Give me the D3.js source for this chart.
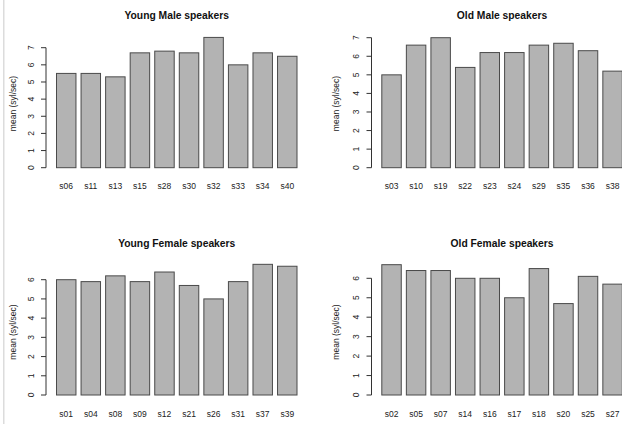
<!DOCTYPE html>
<html>
<head>
<meta charset="utf-8">
<script src="https://cdn.jsdelivr.net/npm/d3@7"></script>
<style>
  html, body { margin: 0; padding: 0; background: #fff; }
  svg { display: block; }
  text { font-family: "Liberation Sans", Arial, Helvetica, sans-serif; fill: #222; }
</style>
</head>
<body>
<svg id="chart" width="622" height="424"></svg>
<script>
// Speaking rate (syllables per second) per speaker, by group
const youngMaleSpeakers = ["s06", "s11", "s13", "s15", "s28", "s30", "s32", "s33", "s34", "s40"];
const youngMaleRates    = [5.5, 5.5, 5.3, 6.7, 6.8, 6.7, 7.6, 6.0, 6.7, 6.5];

const oldMaleSpeakers = ["s03", "s10", "s19", "s22", "s23", "s24", "s29", "s35", "s36", "s38"];
const oldMaleRates    = [5.0, 6.6, 7.0, 5.4, 6.2, 6.2, 6.6, 6.7, 6.3, 5.2];

const youngFemaleSpeakers = ["s01", "s04", "s08", "s09", "s12", "s21", "s26", "s31", "s37", "s39"];
const youngFemaleRates    = [6.0, 5.9, 6.2, 5.9, 6.4, 5.7, 5.0, 5.9, 6.8, 6.7];

const oldFemaleSpeakers = ["s02", "s05", "s07", "s14", "s16", "s17", "s18", "s20", "s25", "s27"];
const oldFemaleRates    = [6.7, 6.4, 6.4, 6.0, 6.0, 5.0, 6.5, 4.7, 6.1, 5.7];

const maleTicks   = [0, 1, 2, 3, 4, 5, 6, 7];
const femaleTicks = [0, 1, 2, 3, 4, 5, 6];

const titles = ["Young Male speakers", "Old Male speakers", "Young Female speakers", "Old Female speakers"];
const yLabel = "mean (syl/sec)";

const svg = d3.select("#chart");

// thin frame line along the left edge
svg.append("rect").attr("x", 3).attr("y", 0).attr("width", 1.5).attr("height", 424).attr("fill", "#dcdcdc");

// plot geometry of each panel
const panels = [
  { title: titles[0], cats: youngMaleSpeakers, vals: youngMaleRates, ticks: maleTicks,
    x0: 56, axisX: 46, yBottom: 167.7, yTop: 47.7, titleY: 19, labelY: 188.5, ylabX: 15.5, ylabY: 103.5 },
  { title: titles[1], cats: oldMaleSpeakers, vals: oldMaleRates, ticks: maleTicks,
    x0: 381.3, axisX: 371.5, yBottom: 167.7, yTop: 37.7, titleY: 19, labelY: 188.5, ylabX: 339, ylabY: 103.5 },
  { title: titles[2], cats: youngFemaleSpeakers, vals: youngFemaleRates, ticks: femaleTicks,
    x0: 56, axisX: 46, yBottom: 395, yTop: 279.7, titleY: 247, labelY: 416.5, ylabX: 15.5, ylabY: 332 },
  { title: titles[3], cats: oldFemaleSpeakers, vals: oldFemaleRates, ticks: femaleTicks,
    x0: 381.3, axisX: 371.5, yBottom: 395, yTop: 278.3, titleY: 247, labelY: 416.5, ylabX: 339, ylabY: 332 }
];

const step = 24.56;          // distance between bar starts
const barFrac = 1 / 1.2;     // bar width relative to step

panels.forEach(p => {
  const g = svg.append("g");
  const n = p.cats.length;
  const x = d3.scaleBand()
    .domain(p.cats)
    .range([p.x0, p.x0 + step * (n - (1 - barFrac))])
    .paddingInner(1 - barFrac)
    .paddingOuter(0);
  const topTick = p.ticks[p.ticks.length - 1];
  const y = d3.scaleLinear().domain([0, topTick]).range([p.yBottom, p.yTop]);

  // bars
  g.selectAll("rect.bar")
    .data(p.cats.map((c, i) => ({ c, v: p.vals[i] })))
    .join("rect")
    .attr("class", "bar")
    .attr("x", d => x(d.c) + 0.5)
    .attr("y", d => y(d.v))
    .attr("width", x.bandwidth() - 1)
    .attr("height", d => y(0) - y(d.v))
    .attr("fill", "#b3b3b3")
    .attr("stroke", "#4a4a4a")
    .attr("stroke-width", 1);

  // y axis: line from first to last tick, outward ticks, rotated labels
  const ax = g.append("g").attr("stroke", "#333").attr("stroke-width", 1);
  ax.append("line")
    .attr("x1", p.axisX).attr("x2", p.axisX)
    .attr("y1", y(0)).attr("y2", y(topTick));
  ax.selectAll("line.tick")
    .data(p.ticks)
    .join("line")
    .attr("class", "tick")
    .attr("x1", p.axisX - 5).attr("x2", p.axisX)
    .attr("y1", d => y(d)).attr("y2", d => y(d));
  g.selectAll("text.ytick")
    .data(p.ticks)
    .join("text")
    .attr("class", "ytick")
    .attr("transform", d => `translate(${p.axisX - 12.5},${y(d)}) rotate(-90)`)
    .attr("text-anchor", "middle")
    .attr("font-size", 8.5)
    .text(d => d);

  // category labels under the bars
  g.selectAll("text.xlab")
    .data(p.cats)
    .join("text")
    .attr("class", "xlab")
    .attr("x", d => x(d) + x.bandwidth() / 2)
    .attr("y", p.labelY)
    .attr("text-anchor", "middle")
    .attr("font-size", 8.5)
    .text(d => d);

  // y axis title
  g.append("text")
    .attr("transform", `translate(${p.ylabX},${p.ylabY}) rotate(-90)`)
    .attr("text-anchor", "middle")
    .attr("font-size", 8.5)
    .text(yLabel);

  // panel title
  g.append("text")
    .attr("x", (p.x0 + p.x0 + step * (n - (1 - barFrac))) / 2)
    .attr("y", p.titleY)
    .attr("text-anchor", "middle")
    .attr("font-size", 10.3)
    .attr("font-weight", "bold")
    .style("fill", "#111")
    .text(p.title);
});
</script>
</body>
</html>
